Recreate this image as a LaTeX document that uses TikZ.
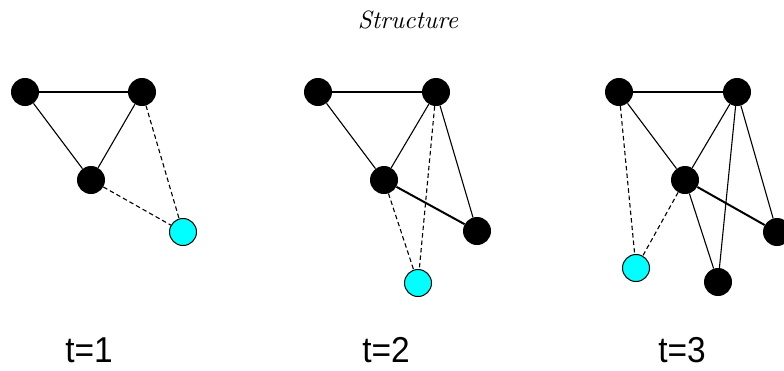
\documentclass[tikz,border=0pt]{standalone}
\usepackage{fontspec}
\usepackage{graphicx}
\newfontfamily\labfont{Liberation Sans}
\newfontfamily\titlefont{lmroman10-italic.otf}
\definecolor{newcyan}{rgb}{0,1,1}

\begin{document}
\begin{tikzpicture}[x=1pt,y=-1pt,
  vtx/.style={circle,fill=black,inner sep=0pt,minimum size=28pt},
  newvtx/.style={circle,draw=black,line width=1pt,fill=newcyan,inner sep=0pt,minimum size=27pt},
  tie/.style={black,line width=1.1pt},
  heavy/.style={black,line width=2pt},
  guess/.style={black,line width=1.1pt,dash pattern=on 4.5pt off 3pt},
  tlab/.style={font=\labfont\fontsize{36}{40}\selectfont}]
  \useasboundingbox (0,0) rectangle (784,370);
  \node[font=\titlefont\fontsize{25}{28}\selectfont] (title) at (408,20) {Structure};

  % t=1
  \node[vtx] (a1) at (25,92) {};
  \node[vtx] (b1) at (142,92) {};
  \node[vtx] (c1) at (91,180) {};
  \node[newvtx] (n1) at (183,232) {};
  \draw[tie] (a1) -- (b1);
  \draw[tie] (a1) -- (c1);
  \draw[tie] (b1) -- (c1);
  \draw[guess] (c1) -- (n1);
  \draw[guess] (b1) -- (n1);
  \node[tlab] (t1) at (89,350) {\scalebox{0.93}[1]{t=1}};

  % t=2
  \node[vtx] (a2) at (318,92) {};
  \node[vtx] (b2) at (436,92) {};
  \node[vtx] (c2) at (384,180) {};
  \node[vtx] (e2) at (477,231) {};
  \node[newvtx] (n2) at (418,283) {};
  \draw[tie] (a2) -- (b2);
  \draw[tie] (a2) -- (c2);
  \draw[tie] (b2) -- (c2);
  \draw[tie] (b2) -- (e2);
  \draw[heavy] (c2) -- (e2);
  \draw[guess] (c2) -- (n2);
  \draw[guess] (b2) -- (n2);
  \node[tlab] (t2) at (386,350) {\scalebox{0.93}[1]{t=2}};

  % t=3
  \node[vtx] (a3) at (619,92) {};
  \node[vtx] (b3) at (737,92) {};
  \node[vtx] (c3) at (685,180) {};
  \node[vtx] (e3) at (777,232) {};
  \node[vtx] (f3) at (718,282) {};
  \node[newvtx] (n3) at (636,268) {};
  \draw[tie] (a3) -- (b3);
  \draw[tie] (a3) -- (c3);
  \draw[tie] (b3) -- (c3);
  \draw[tie] (b3) -- (e3);
  \draw[tie] (b3) -- (f3);
  \draw[tie] (c3) -- (f3);
  \draw[heavy] (c3) -- (e3);
  \draw[guess] (a3) -- (n3);
  \draw[guess] (c3) -- (n3);
  \node[tlab] (t3) at (682,350) {\scalebox{0.93}[1]{t=3}};
\end{tikzpicture}
\end{document}
